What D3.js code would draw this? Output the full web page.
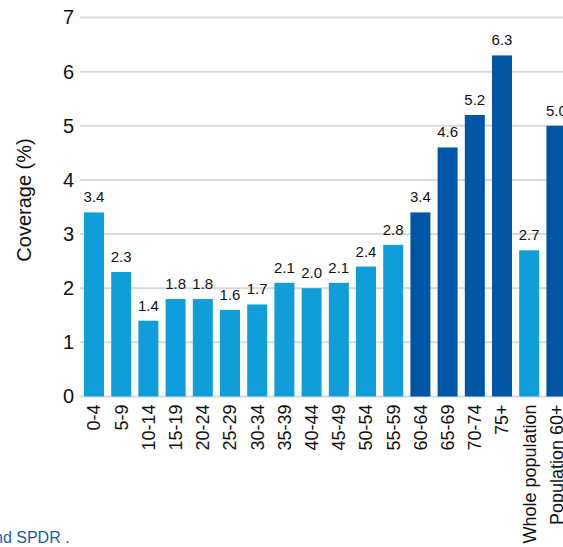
<!DOCTYPE html>
<html>
<head>
<meta charset="utf-8">
<script src="https://cdn.jsdelivr.net/npm/d3@7"></script>
<style>
  html, body { margin: 0; padding: 0; background: #fff; }
  svg { display: block; font-family: "Liberation Sans", Arial, sans-serif; }
</style>
</head>
<body>
<svg id="chart" width="563" height="547"></svg>
<script>
// Coverage by age group
const categories = ["0-4", "5-9", "10-14", "15-19", "20-24", "25-29", "30-34", "35-39",
  "40-44", "45-49", "50-54", "55-59", "60-64", "65-69", "70-74", "75+",
  "Whole population", "Population 60+"];
const coverage = [3.4, 2.3, 1.4, 1.8, 1.8, 1.6, 1.7, 2.1, 2.0, 2.1, 2.4, 2.8,
  3.4, 4.6, 5.2, 6.3, 2.7, 5.0];
// older groups are highlighted in the darker shade
const older = ["60-64", "65-69", "70-74", "75+", "Population 60+"];
const yTicks = [0, 1, 2, 3, 4, 5, 6, 7];

const svg = d3.select("#chart");
const light = "#0f9ed9", dark = "#0056a5";

const x = d3.scaleBand()
  .domain(categories)
  .range([80, 570.4])
  .paddingInner(0.265)
  .paddingOuter(0.147);

const y = d3.scaleLinear().domain([0, 7]).range([396.5, 17.5]);

// horizontal gridlines
svg.append("g")
  .selectAll("line")
  .data(yTicks)
  .join("line")
  .attr("x1", 80).attr("x2", 563)
  .attr("y1", d => y(d)).attr("y2", d => y(d))
  .attr("stroke", "#d9d9d9").attr("stroke-width", 2);

// y axis tick labels
const yAxis = svg.append("g")
  .attr("transform", "translate(74,0)")
  .call(d3.axisLeft(y).tickValues(yTicks).tickFormat(d3.format("d"))
    .tickSize(0).tickPadding(0));
yAxis.select(".domain").remove();
yAxis.selectAll("text")
  .attr("font-size", 20).attr("fill", "#111")
  .attr("font-family", "Liberation Sans, Arial, sans-serif");

// y axis title
svg.append("text")
  .attr("transform", "translate(31,200) rotate(-90)")
  .attr("text-anchor", "middle")
  .attr("font-size", 20).attr("fill", "#111")
  .text("Coverage (%)");

// bars
svg.append("g")
  .selectAll("rect")
  .data(categories)
  .join("rect")
  .attr("x", d => x(d))
  .attr("width", x.bandwidth())
  .attr("y", (d, i) => y(coverage[i]))
  .attr("height", (d, i) => y(0) - y(coverage[i]))
  .attr("fill", d => older.includes(d) ? dark : light);

// value labels
svg.append("g")
  .selectAll("text")
  .data(categories)
  .join("text")
  .attr("x", d => x(d) + x.bandwidth() / 2)
  .attr("y", (d, i) => y(coverage[i]) - 10)
  .attr("text-anchor", "middle")
  .attr("font-size", 15).attr("fill", "#111")
  .text((d, i) => coverage[i].toFixed(1));

// category labels
const xAxis = svg.append("g")
  .attr("transform", `translate(0,${y(0) + 8})`)
  .call(d3.axisBottom(x).tickSize(0).tickPadding(0));
xAxis.select(".domain").remove();
xAxis.selectAll("text")
  .attr("font-size", 18).attr("fill", "#111")
  .attr("font-family", "Liberation Sans, Arial, sans-serif")
  .attr("transform", "rotate(-90)")
  .attr("text-anchor", "end")
  .attr("dy", "0.35em")
  .attr("x", 0).attr("y", 0);

// source note
svg.append("text")
  .attr("x", -6).attr("y", 543)
  .attr("font-size", 16).attr("fill", "#1a5fa8")
  .text("nd SPDR .");
</script>
</body>
</html>
